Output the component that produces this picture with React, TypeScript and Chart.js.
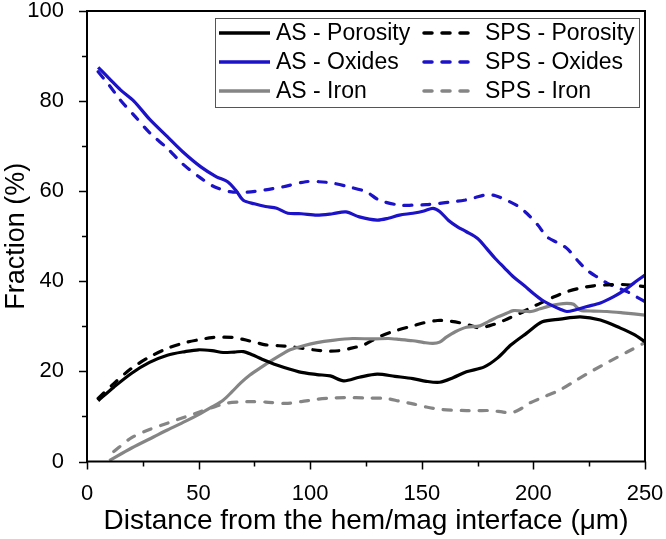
import { useEffect, useRef } from "react";
import { Chart, registerables } from "chart.js";

Chart.register(...registerables);

const FONT = "Arial, 'Liberation Sans', sans-serif";
const BLUE = "#1c12c8";
const GRAY = "#858585";
const BLACK = "#000000";

// Distance from the hem/mag interface (µm) and phase fraction (%)
const asPorosityX = [5, 12, 20, 28, 36, 44, 50, 56, 61, 66, 70, 74, 78, 85, 95, 103, 109, 115, 122, 130, 138, 146, 152, 158, 164, 170, 178, 184, 190, 197, 204, 212, 221, 230, 239, 245, 250];
const asPorosityY = [13.5, 16.5, 19.6, 22, 23.6, 24.4, 24.8, 24.6, 24.2, 24.3, 24.4, 23.7, 22.8, 21.4, 19.9, 19.3, 19.0, 17.9, 18.7, 19.4, 18.9, 18.4, 17.8, 17.6, 18.6, 19.9, 21.0, 23.0, 25.9, 28.5, 31.0, 31.6, 32.1, 31.4, 29.6, 28.2, 26.6];

const spsPorosityX = [5, 12, 20, 28, 36, 44, 51, 56, 61, 66, 70, 75, 80, 86, 91, 97, 103, 108, 113, 118, 124, 131, 138, 146, 151, 157, 162, 167, 172, 176, 180, 184, 189, 194, 199, 203, 209, 215, 221, 227, 233, 239, 245, 250];
const spsPorosityY = [14, 17.3, 20.7, 23.2, 25.1, 26.4, 27.1, 27.5, 27.6, 27.5, 27.1, 26.5, 25.9, 25.7, 25.5, 25.1, 24.7, 24.5, 24.6, 25.1, 25.9, 27.7, 29, 30.1, 30.8, 31.3, 31.2, 30.8, 30.2, 29.6, 30.1, 30.7, 31.8, 32.9, 34.2, 35.1, 36.5, 37.7, 38.5, 39, 39.2, 39.3, 39.1, 38.8];

const asOxidesX = [5, 10, 15, 21, 28, 36, 43, 51, 58, 63, 67, 70, 75, 80, 85, 90, 96, 103, 110, 116, 122, 130, 135, 140, 146, 151, 155, 158, 162, 166, 170, 175, 179, 183, 187, 191, 196, 200, 204, 208, 212, 215, 219, 224, 230, 236, 241, 245, 250];
const asOxidesY = [87.5, 85, 82.5, 80, 76, 72.1, 68.7, 65.4, 63.2, 62.1, 60, 58.0, 57.2, 56.6, 56.2, 55.1, 55, 54.7, 55, 55.4, 54.3, 53.6, 54, 54.7, 55.1, 55.6, 56.2, 55.5, 53.5, 52.1, 51, 49.5, 47.3, 45, 43, 41, 39, 37.3, 35.8, 34.7, 33.8, 33.3, 33.7, 34.4, 35.2, 36.6, 38.1, 39.6, 41.4];

const spsOxidesX = [5, 10, 15, 21, 28, 36, 43, 51, 57, 64, 72, 80, 88, 98, 104, 110, 117, 125, 131, 140, 146, 152, 158, 163, 169, 174, 179, 183, 188, 193, 197, 202, 206, 211, 215, 220, 224, 229, 233, 238, 242, 246, 250];
const spsOxidesY = [86.5, 83.5, 80.2, 76.9, 73, 69.5, 66, 62.9, 61, 59.9, 59.8, 60.3, 61, 62.1, 62.1, 61.8, 61, 59.9, 58, 56.9, 56.9, 57, 57.3, 57.6, 58, 58.6, 59.2, 59, 58, 56.7, 55.1, 52.5, 49.9, 48.5, 47.3, 44.5, 42.5, 40.8, 39.6, 38.5, 37.7, 36.6, 35.5];

const asIronX = [10, 20, 30, 36, 44, 51, 56, 61, 65, 69, 73, 78, 83, 88, 91, 97, 103, 110, 119, 128, 135, 140, 146, 151, 155, 158, 161, 165, 170, 176, 180, 184, 188, 191, 195, 199, 203, 207, 211, 215, 218, 221, 227, 233, 240, 250];
const asIronY = [0.2, 3, 5.5, 7, 8.9, 10.7, 12.1, 13.6, 15.5, 17.5, 19.2, 20.9, 22.5, 24, 24.8, 25.7, 26.4, 26.9, 27.3, 27.2, 27.3, 27.1, 26.8, 26.4, 26.2, 26.5, 27.6, 28.8, 29.8, 30.1, 31.1, 32.1, 32.9, 33.5, 33.4, 33.3, 33.9, 34.5, 34.9, 35.1, 34.9, 33.6, 33.4, 33.3, 33, 32.5];

const spsIronX = [12, 20, 28, 36, 44, 51, 57, 62, 68, 73, 80, 89, 96, 103, 110, 116, 125, 134, 140, 146, 152, 158, 164, 170, 175, 181, 186, 190, 194, 198, 204, 212, 219, 227, 234, 242, 250];
const spsIronY = [2.2, 5.3, 7.1, 8.5, 9.9, 11.1, 12.1, 12.9, 13.2, 13.3, 13.2, 12.9, 13.3, 13.8, 14.1, 14.2, 14.1, 14.0, 13.4, 12.8, 12.1, 11.6, 11.4, 11.3, 11.3, 11.3, 11.0, 10.8, 11.6, 12.9, 14.2, 15.9, 18.0, 20.3, 22.2, 24.3, 26.4];

const xTicks = [0, 50, 100, 150, 200, 250];
const yTicks = [0, 20, 40, 60, 80, 100];

const DASH = [8, 10];

const pairs = (xs: number[], ys: number[]) => xs.map((x, i) => ({ x, y: ys[i] }));

const series = [
  { label: "AS - Porosity", xs: asPorosityX, ys: asPorosityY, color: BLACK, dash: [] as number[] },
  { label: "AS - Oxides", xs: asOxidesX, ys: asOxidesY, color: BLUE, dash: [] as number[] },
  { label: "AS - Iron", xs: asIronX, ys: asIronY, color: GRAY, dash: [] as number[] },
  { label: "SPS - Porosity", xs: spsPorosityX, ys: spsPorosityY, color: BLACK, dash: DASH },
  { label: "SPS - Oxides", xs: spsOxidesX, ys: spsOxidesY, color: BLUE, dash: DASH },
  { label: "SPS - Iron", xs: spsIronX, ys: spsIronY, color: GRAY, dash: DASH },
];

// Axis frame, minor/major tick marks and the boxed two-column legend
const framePlugin = {
  id: "frame",
  afterDatasetsDraw(chart: any) {
    const { ctx, chartArea } = chart;
    const { left, right, top, bottom } = chartArea;
    const xs = chart.scales.x;
    const ys = chart.scales.y;
    ctx.save();
    ctx.setLineDash([]);
    ctx.strokeStyle = "#000";
    ctx.lineWidth = 2;
    ctx.strokeRect(left, top, right - left, bottom - top);

    ctx.lineWidth = 1.5;
    ctx.beginPath();
    for (let v = 0; v <= 250; v += 25) {
      const px = Math.round(xs.getPixelForValue(v)) + 0.5;
      const len = v % 50 === 0 ? 8 : 5;
      ctx.moveTo(px, bottom);
      ctx.lineTo(px, bottom + len);
    }
    for (let v = 0; v <= 100; v += 10) {
      const py = Math.round(ys.getPixelForValue(v)) + 0.5;
      const len = v % 20 === 0 ? 8 : 5;
      ctx.moveTo(left, py);
      ctx.lineTo(left - len, py);
    }
    ctx.stroke();

    // legend box
    const bx = left + 128;
    const by = top + 7;
    const bw = right - 6 - bx;
    const bh = 89;
    ctx.fillStyle = "#fff";
    ctx.fillRect(bx, by, bw, bh);
    ctx.strokeStyle = "#555";
    ctx.lineWidth = 1;
    ctx.strokeRect(bx + 0.5, by + 0.5, bw, bh);

    const colLine = [bx + 4, bx + 209];
    const colText = [bx + 61, bx + 270];
    const lineLen = 51;
    ctx.font = `23px ${FONT}`;
    ctx.textBaseline = "middle";
    ctx.textAlign = "left";
    chart.data.datasets.forEach((ds: any, i: number) => {
      const col = i < 3 ? 0 : 1;
      const row = i % 3;
      const cy = by + 15 + row * 29;
      ctx.strokeStyle = ds.borderColor;
      ctx.lineWidth = 3.5;
      ctx.lineCap = ds.borderCapStyle || "butt";
      ctx.setLineDash(ds.borderDash || []);
      ctx.beginPath();
      ctx.moveTo(colLine[col], cy);
      ctx.lineTo(colLine[col] + lineLen, cy);
      ctx.stroke();
      ctx.setLineDash([]);
      ctx.fillStyle = "#000";
      ctx.fillText(ds.label, colText[col], cy + 1);
    });
    ctx.restore();
  },
};

export default function App() {
  const canvasRef = useRef<HTMLCanvasElement>(null);

  useEffect(() => {
    const canvas = canvasRef.current;
    if (!canvas) return;
    const chart = new Chart(canvas, {
      type: "line",
      data: {
        datasets: series.map((s) => ({
          label: s.label,
          data: pairs(s.xs, s.ys),
          borderColor: s.color,
          backgroundColor: s.color,
          borderWidth: 3.2,
          borderDash: s.dash,
          borderCapStyle: s.dash.length ? "round" : "butt",
          pointRadius: 0,
          tension: 0.3,
          fill: false,
        })),
      },
      options: {
        responsive: false,
        animation: false,
        layout: { padding: { top: 11, right: 21, left: 0, bottom: 0 } },
        plugins: {
          legend: { display: false },
          tooltip: { enabled: false },
        },
        scales: {
          x: {
            type: "linear",
            min: 0,
            max: 250,
            afterBuildTicks: (s: any) => {
              s.ticks = xTicks.map((v) => ({ value: v }));
            },
            ticks: { font: { family: FONT, size: 22 }, color: "#000", padding: 11 },
            grid: { display: false },
            border: { display: false },
            title: {
              display: true,
              text: "Distance from the hem/mag interface (μm)",
              font: { family: FONT, size: 28 },
              color: "#000",
              padding: { top: 0, bottom: 1 },
            },
            afterFit: (s: any) => {
              s.height = 77.5;
              s.paddingLeft = 0;
              s.paddingRight = 0;
            },
          },
          y: {
            type: "linear",
            min: 0,
            max: 100,
            afterBuildTicks: (s: any) => {
              s.ticks = yTicks.map((v) => ({ value: v }));
            },
            ticks: { font: { family: FONT, size: 22 }, color: "#000", padding: 15 },
            grid: { display: false },
            border: { display: false },
            title: {
              display: true,
              text: "Fraction (%)",
              font: { family: FONT, size: 27 },
              color: "#000",
              padding: { top: 0, bottom: 0 },
            },
            afterFit: (s: any) => {
              s.width = 87;
              s.paddingTop = 0;
              s.paddingBottom = 0;
            },
          },
        },
      },
      plugins: [framePlugin],
    });
    return () => chart.destroy();
  }, []);

  return (
    <div style={{ position: "absolute", left: 0, top: 0, width: 666, height: 539, background: "#fff" }}>
      <canvas ref={canvasRef} width={666} height={539} />
    </div>
  );
}
